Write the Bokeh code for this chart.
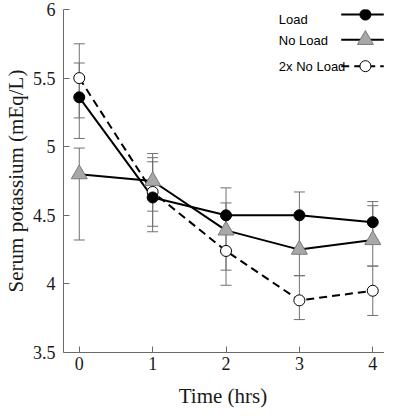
from bokeh.plotting import figure
from bokeh.layouts import column
from bokeh.models import Range1d, FixedTicker, NumeralTickFormatter, ColumnDataSource, Whisker, TeeHead, Div
from bokeh.core.properties import value
from bokeh.embed import file_html
from bokeh.resources import INLINE

# ---- data ----
time = [0, 1, 2, 3, 4]
load_mean = [5.36, 4.63, 4.50, 4.50, 4.45]
load_upper = [5.61, 4.89, 4.70, 4.67, 4.60]
load_lower = [5.06, 4.38, 4.37, 4.25, 4.32]
noload_mean = [4.80, 4.75, 4.39, 4.25, 4.32]
noload_upper = [4.99, 4.95, 4.59, 4.50, 4.57]
noload_lower = [4.32, 4.53, 4.10, 4.06, 4.13]
x2_mean = [5.50, 4.67, 4.24, 3.88, 3.95]
x2_upper = [5.75, 4.92, 4.49, 4.06, 4.13]
x2_lower = [5.21, 4.42, 3.99, 3.74, 3.77]
y_ticks = [3.5, 4, 4.5, 5, 5.5, 6]
x_ticks = [0, 1, 2, 3, 4]
legend_labels = ["Load", "No Load", "2x No Load"]
x_title = "Time (hrs)"
y_title = "Serum potassium (mEq/L)"

# ---- layout / style constants ----
AX_COL = "#6a6a6a"
ERR_COL = "#707070"
TRI_FILL = "#a8a8a8"
TRI_LINE = "#7a7a7a"
DASH = "8 5"
LEG_TEXT_X = 2.72
LEG_X0, LEG_XM, LEG_X1 = 3.57, 3.90, 4.15
LEG_LINE_Y = [5.963, 5.779, 5.587]
LEG_TEXT_Y = [5.926, 5.771, 5.587]

p = figure(width=384, height=382,
           x_range=Range1d(-0.215, 4.16), y_range=Range1d(3.5, 6.0),
           output_backend="svg", toolbar_location=None,
           min_border_left=59, min_border_right=0,
           min_border_top=9, min_border_bottom=30,
           background_fill_color="white", border_fill_color="white")
p.outline_line_color = None
p.xgrid.visible = False
p.ygrid.visible = False

p.xaxis.ticker = FixedTicker(ticks=x_ticks)
p.yaxis.ticker = FixedTicker(ticks=y_ticks)
p.yaxis.formatter = NumeralTickFormatter(format="0.[0]")
p.yaxis.axis_label = y_title
for ax in (p.xaxis[0], p.yaxis[0]):
    ax.axis_line_color = AX_COL
    ax.axis_line_width = 1
    ax.major_tick_line_color = AX_COL
    ax.major_tick_in = 6
    ax.major_tick_out = 0
    ax.minor_tick_line_color = None
    ax.major_label_text_font = "Liberation Serif"
    ax.major_label_text_font_size = "18px"
    ax.major_label_text_color = "#1a1a1a"
    ax.axis_label_text_font = "Liberation Serif"
    ax.axis_label_text_font_size = "21px"
    ax.axis_label_text_font_style = "normal"
    ax.axis_label_text_color = "#1a1a1a"
p.xaxis.major_label_standoff = 4
p.yaxis.major_label_standoff = 8
p.yaxis.axis_label_standoff = 2

# ---- error bars ----
for up, lo in ((load_upper, load_lower), (noload_upper, noload_lower), (x2_upper, x2_lower)):
    src = ColumnDataSource(dict(x=time, upper=up, lower=lo))
    w = Whisker(base="x", upper="upper", lower="lower", source=src,
                line_color=ERR_COL, line_width=1, level="underlay",
                upper_head=TeeHead(size=11, line_color=ERR_COL, line_width=1),
                lower_head=TeeHead(size=11, line_color=ERR_COL, line_width=1))
    p.add_layout(w)

# ---- series ----
p.line(time, x2_mean, line_color="black", line_width=2, line_dash=DASH)
p.line(time, noload_mean, line_color="black", line_width=2)
p.line(time, load_mean, line_color="black", line_width=2)
p.scatter(time, noload_mean, marker="triangle", size=16, fill_color=TRI_FILL, line_color=TRI_LINE, line_width=1)
p.scatter(time, x2_mean, marker="circle", size=11, fill_color="white", line_color="black", line_width=1)
p.scatter(time, load_mean, marker="circle", size=11, fill_color="black", line_color="black", line_width=1)

# ---- legend (labels left, samples right) ----
p.text(x=[LEG_TEXT_X] * 3, y=LEG_TEXT_Y, text=legend_labels,
       text_font=value("Liberation Sans"), text_font_size="13px",
       text_baseline="middle", text_align="left", text_color="black")
p.line([LEG_X0, LEG_X1], [LEG_LINE_Y[0]] * 2, line_color="black", line_width=2)
p.scatter([LEG_XM], [LEG_LINE_Y[0]], marker="circle", size=11, fill_color="black", line_color="black")
p.line([LEG_X0, LEG_X1], [LEG_LINE_Y[1]] * 2, line_color="black", line_width=2)
p.scatter([LEG_XM], [LEG_LINE_Y[1]], marker="triangle", size=16, fill_color=TRI_FILL, line_color=TRI_LINE)
p.line([LEG_X0, LEG_X1], [LEG_LINE_Y[2]] * 2, line_color="black", line_width=2, line_dash=DASH)
p.scatter([LEG_XM], [LEG_LINE_Y[2]], marker="circle", size=11, fill_color="white", line_color="black")

# ---- x-axis title below the plot ----
title_div = Div(
    text=('<div style="width:384px;box-sizing:border-box;padding-left:62px;padding-top:5px;'
          'text-align:center;font-family:\'Liberation Serif\';font-size:21px;'
          'line-height:18px;color:#1a1a1a;white-space:nowrap">' + x_title + '</div>'),
    width=384, height=18, margin=0)

layout = column(p, title_div, spacing=0)
open("out.html", "w").write(file_html(layout, INLINE))
